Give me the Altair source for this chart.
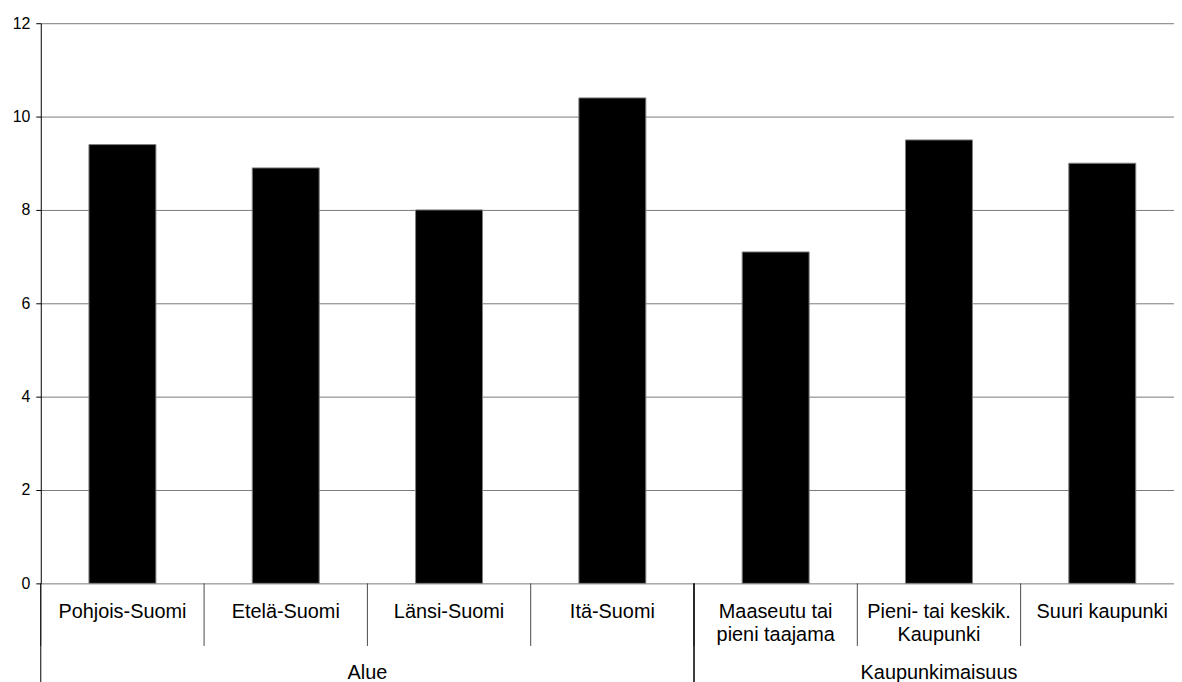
import altair as alt
import pandas as pd

# ---- data ----
categories = ["Pohjois-Suomi", "Etelä-Suomi", "Länsi-Suomi", "Itä-Suomi",
              "Maaseutu tai\npieni taajama", "Pieni- tai keskik.\nKaupunki", "Suuri kaupunki"]
groups = ["Alue", "Alue", "Alue", "Alue",
          "Kaupunkimaisuus", "Kaupunkimaisuus", "Kaupunkimaisuus"]
values = [9.4, 8.9, 8.0, 10.4, 7.1, 9.5, 9.0]
y_ticks = [0, 2, 4, 6, 8, 10, 12]

# ---- layout ----
W = 1141          # visible plot width
H = 564           # plot height
X_MAX = 1151      # full category range (right end cropped, as in the reference)
FONT = "Liberation Sans"

df = pd.DataFrame({"category": categories, "group": groups, "value": values})

x_scale = alt.Scale(domain=categories, paddingInner=0, paddingOuter=0, rangeMax=X_MAX)
y_scale = alt.Scale(domain=[0, 12], nice=False)

bars = alt.Chart(df).mark_bar(
    color="black", stroke="#808080", strokeWidth=1, width={"band": 0.41}
).encode(
    x=alt.X("category:N", scale=x_scale, axis=None),
    y=alt.Y("value:Q", scale=y_scale,
            axis=alt.Axis(values=y_ticks, grid=True, gridColor="#7a7a7a", gridWidth=1,
                          domainColor="black", domainWidth=1, tickColor="black",
                          tickSize=5, labelPadding=6, labelFontSize=16,
                          labelFont=FONT, labelColor="black", title=None)),
)

# short separators between category labels
seps = alt.Chart(df).mark_rule(color="#4a4a4a", strokeWidth=1).encode(
    x=alt.X("category:N", scale=x_scale, bandPosition=0),
    y=alt.value(H), y2=alt.value(H + 63),
)

# long separators at group boundaries
gstart = df.drop_duplicates("group", keep="first")
gend = df.drop_duplicates("group", keep="last")
long_left = alt.Chart(gstart).mark_rule(color="black", strokeWidth=1).encode(
    x=alt.X("category:N", scale=x_scale, bandPosition=0),
    y=alt.value(H), y2=alt.value(H + 100),
)
long_right = alt.Chart(gend).mark_rule(color="black", strokeWidth=1).encode(
    x=alt.X("category:N", scale=x_scale, bandPosition=1),
    y=alt.value(H), y2=alt.value(H + 100),
)

cat_labels = alt.Chart(df).mark_text(
    fontSize=20, font=FONT, color="black", align="center", baseline="alphabetic",
    lineBreak="\n", lineHeight=23,
).encode(
    x=alt.X("category:N", scale=x_scale),
    y=alt.value(H + 35),
    text="category:N",
)

# group labels centred under their categories
group_layers = []
for g in pd.unique(df["group"]):
    sub = df[df["group"] == g].reset_index(drop=True)
    n = len(sub)
    mid = sub.iloc[[n // 2]]
    bp = 0 if n % 2 == 0 else 0.5
    group_layers.append(
        alt.Chart(mid.assign(label=g)).mark_text(
            fontSize=20, font=FONT, color="black", align="center", baseline="alphabetic"
        ).encode(
            x=alt.X("category:N", scale=x_scale, bandPosition=bp),
            y=alt.value(H + 96),
            text="label:N",
        )
    )

chart = alt.layer(bars, seps, long_left, long_right, cat_labels, *group_layers).properties(
    width=W, height=H,
    autosize=alt.AutoSizeParams(type="none"),
    padding={"left": 33, "top": 13, "right": 0, "bottom": 97},
).configure_view(stroke=None)

chart.save("out.html", embed_options={"renderer": "svg", "actions": False})
